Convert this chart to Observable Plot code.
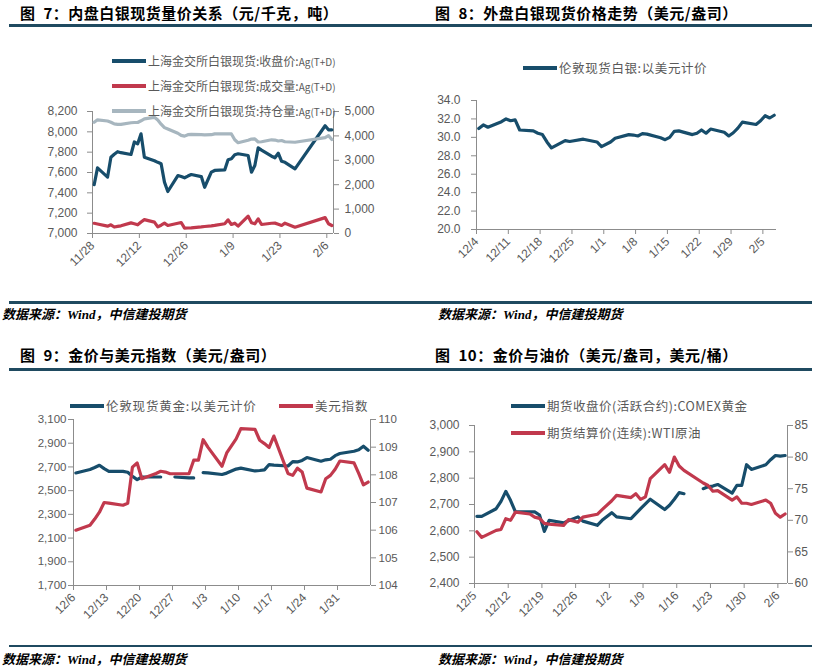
<!DOCTYPE html>
<html><head><meta charset="utf-8">
<script src="https://cdn.jsdelivr.net/npm/d3@7"></script>
<script src="https://cdn.jsdelivr.net/npm/@observablehq/plot@0.6"></script>
<style>
html,body{margin:0;padding:0;background:#fff;}
#root{position:relative;width:820px;height:671px;overflow:hidden;font-family:"Noto Sans CJK SC",sans-serif;}
.title{position:absolute;font-size:15px;letter-spacing:0.5px;font-weight:bold;color:#000;white-space:nowrap;line-height:16px;height:16px;}
.rule{position:absolute;background:#1F4A60;}
.src{position:absolute;font-family:"Liberation Serif","Noto Sans CJK SC",serif;font-style:italic;font-weight:bold;font-size:13px;white-space:nowrap;line-height:14px;color:#000;}
.leg{position:absolute;white-space:nowrap;color:#595959;height:16px;line-height:16px;display:flex;align-items:center;z-index:5;}
.leg .sw{display:inline-block;width:34px;height:3.5px;margin-right:2px;}
.plot{position:absolute;z-index:1;}
</style></head><body><div id="root"></div>
<script>
// ---------- data ----------
const p7Dates = ["11/28","11/29","12/2","12/3","12/4","12/5","12/6","12/9","12/10","12/11","12/12","12/13","12/16","12/17","12/18","12/19","12/20","12/23","12/24","12/25","12/26","12/27","12/30","12/31","1/2","1/3","1/6","1/7","1/8","1/9","1/10","1/13","1/14","1/15","1/16","1/17","1/20","1/21","1/22","1/23","1/24","1/27","2/5","2/6","2/7"];
const p7Close = [7480,7646,7555,7750,7780,7805,7795,7777,7900,7882,7980,7751,7715,7700,7686,7505,7413,7570,7560,7548,7565,7580,7560,7455,7603,7620,7625,7725,7735,7775,7784,7767,7603,7669,7843,7820,7760,7745,7790,7710,7700,7636,8060,8020,8020];
const p7Volume = [420,390,300,355,265,290,315,435,400,355,470,570,465,270,340,424,328,420,450,220,225,232,270,287,310,330,400,560,370,423,300,710,437,396,601,369,420,425,380,330,424,260,650,400,328];
const p7OI = [4560,4660,4610,4560,4490,4470,4470,4540,4550,4550,4620,4700,4760,4650,4480,4340,4280,4110,4020,3990,4050,4060,4050,4045,4050,4085,4085,4085,4080,3840,3720,3820,3870,3880,3750,3760,3840,3830,3790,3810,3760,3740,3930,4010,3850];
const p7XTicks = ["11/28","12/12","12/26","1/9","1/23","2/6"];
const p7LeftTicks = [7000,7200,7400,7600,7800,8000,8200];
const p7RightTicks = [0,1000,2000,3000,4000,5000];
const p7Names = ["上海金交所白银现货:收盘价:", "上海金交所白银现货:成交量:", "上海金交所白银现货:持仓量:"];

const p8Dates = ["12/4","12/5","12/6","12/9","12/10","12/11","12/12","12/13","12/16","12/17","12/18","12/19","12/20","12/23","12/24","12/27","12/30","12/31","1/2","1/3","1/6","1/7","1/8","1/9","1/10","1/13","1/14","1/15","1/16","1/17","1/20","1/21","1/22","1/23","1/24","1/27","1/28","1/29","1/30","1/31","2/3","2/4","2/5","2/6","2/7"];
const p8Silver = [30.95,31.35,31.1,31.7,32.0,31.8,31.9,30.8,30.7,30.45,30.3,29.5,28.85,29.65,29.55,29.8,29.5,29.0,29.5,29.9,30.3,30.25,30.15,30.4,30.35,29.95,29.75,30.0,30.65,30.7,30.3,30.45,30.8,30.45,30.9,30.55,30.15,30.5,31.0,31.65,31.4,31.8,32.35,32.1,32.4];
const p8XTicks = ["12/4","12/11","12/18","12/25","1/1","1/8","1/15","1/22","1/29","2/5"];
const p8Ticks = [20,22,24,26,28,30,32,34];

const p9Dates = ["12/6","12/9","12/10","12/11","12/12","12/13","12/16","12/17","12/18","12/19","12/20","12/23","12/24","12/25","12/26","12/27","12/30","12/31","1/1","1/2","1/3","1/6","1/7","1/8","1/9","1/10","1/13","1/14","1/15","1/16","1/17","1/20","1/21","1/22","1/23","1/24","1/27","1/28","1/29","1/30","1/31","2/3","2/4","2/5","2/6"];
const p9Gold = [2649,2678,2695,2714,2686,2663,2663,2655,2622,2593,2615,2615,2615,null,null,2615,2608,2607,null,2652,2650,2636,2648,2665,2682,2690,2666,2670,2675,2720,2715,2708,2745,2742,2755,2779,2748,2760,2765,2795,2813,2832,2845,2875,2841];
const p9Usd = [106.0,106.18,106.4,106.65,107.0,106.98,106.9,106.97,108.28,108.43,107.86,108.05,108.13,108.1,108.04,108.04,108.04,108.53,108.53,109.27,109.0,108.31,108.79,109.05,109.3,109.67,109.64,109.25,109.13,108.99,109.4,108.05,107.98,108.24,108.1,107.52,107.38,107.86,107.98,108.2,108.5,108.43,108.05,107.64,107.74];
const p9XTicks = ["12/6","12/13","12/20","12/27","1/3","1/10","1/17","1/24","1/31"];
const p9LeftTicks = [1700,1900,2100,2300,2500,2700,2900,3100];
const p9RightTicks = [104,105,106,107,108,109,110];

const p10Dates = ["12/5","12/6","12/9","12/10","12/11","12/12","12/13","12/16","12/17","12/18","12/19","12/20","12/23","12/24","12/26","12/27","12/30","12/31","1/2","1/3","1/6","1/7","1/8","1/9","1/10","1/13","1/14","1/15","1/16","1/17","1/20","1/21","1/22","1/23","1/24","1/27","1/28","1/29","1/30","1/31","2/3","2/4","2/5","2/6","2/7"];
const p10Gold = [2655,2655,2684,2712,2750,2715,2672,2672,2672,2660,2598,2640,2630,2638,2653,2637,2621,2640,2669,2653,2646,2665,2684,2702,2720,2681,2697,2720,2745,2741,null,2760,2767,2770,2776,2743,2773,2773,2851,2833,2851,2870,2886,2884,2886];
const p10Wti = [68.2,67.3,68.4,68.55,70.25,70.0,71.3,71.0,70.5,70.3,69.5,69.4,69.2,70.1,69.7,70.5,70.95,71.7,73.1,73.95,73.6,74.2,73.3,73.7,76.6,78.8,77.6,80.0,78.6,77.9,null,75.9,75.5,74.6,74.7,73.2,73.7,72.7,72.7,72.5,73.2,72.7,71.1,70.5,71.0];
const p10XTicks = ["12/5","12/12","12/19","12/26","1/2","1/9","1/16","1/23","1/30","2/6"];
const p10LeftTicks = [2400,2500,2600,2700,2800,2900,3000];
const p10RightTicks = [60,65,70,75,80,85];

// ---------- helpers ----------
const BLUE = "#174D6B", RED = "#C1394D", GRAY = "#A7B6BF", AXIS = "#8C8C8C", LABEL = "#595959";
function toDate(s, hour = 0) {
  const [m, d] = s.split("/").map(Number);
  return new Date(Date.UTC(m >= 11 ? 2024 : 2025, m - 1, d, hour));
}
function dualMap(l0, l1, r0, r1) {
  const f = v => l0 + (v - r0) * (l1 - l0) / (r1 - r0);
  f.invert = y => r0 + (y - l0) * (r1 - r0) / (l1 - l0);
  return f;
}
const xfmt = d => `${d.getUTCMonth() + 1}/${d.getUTCDate()}`;
const comma = d3.format(",");
const series = (dates, vals, map = v => v, dropNull = false) =>
  dates.map((s, i) => ({date: toDate(s, 12), v: vals[i] == null ? NaN : map(vals[i])}))
       .filter(d => !dropNull || !isNaN(d.v));

function build(cfg) {
  const [ml, mr, mt, mb] = cfg.margins;
  const yfs = cfg.yFontSize || 12;
  const marks = [
    Plot.ruleY([cfg.yDomain[0]], {stroke: AXIS}),
    Plot.ruleX([cfg.xDomain[0]], {stroke: AXIS}),
    Plot.axisY(cfg.leftTicks, {anchor: "left", tickSize: 5, tickPadding: cfg.leftPad, stroke: AXIS, fill: LABEL, fontSize: yfs, tickFormat: cfg.leftFmt, label: null}),
    Plot.axisX(cfg.xTicks.map(s => toDate(s)), {anchor: "bottom", tickSize: 5, tickPadding: 5, tickRotate: -45, stroke: AXIS, fill: LABEL, tickFormat: xfmt, label: null})
  ];
  if (cfg.rightTicks) {
    marks.push(Plot.ruleX([cfg.xDomain[1]], {stroke: AXIS}));
    marks.push(Plot.axisY(cfg.rightTicks.map(cfg.rightMap), {anchor: "right", tickSize: 5, tickPadding: cfg.rightPad, stroke: AXIS, fill: LABEL, fontSize: yfs,
      tickFormat: d => cfg.rightFmt(Math.round(cfg.rightMap.invert(d) * 1000) / 1000), label: null}));
  }
  for (const l of cfg.lines) marks.push(Plot.line(l.data, {x: "date", y: "v", stroke: l.color, strokeWidth: 3.2}));
  const svg = Plot.plot({
    width: 410, height: 300, marginLeft: ml, marginRight: mr, marginTop: mt, marginBottom: mb,
    style: {fontFamily: "Liberation Sans, Arial, sans-serif", fontSize: "12px", color: LABEL, background: "transparent", overflow: "visible"},
    x: {type: "utc", domain: cfg.xDomain, label: null},
    y: {domain: cfg.yDomain, label: null},
    marks
  });
  svg.classList.add("plot");
  svg.style.left = cfg.left + "px";
  svg.style.top = cfg.top + "px";
  root.appendChild(svg);
}

const root = document.getElementById("root");
function add(cls, x, y, html, extra = {}) {
  const el = document.createElement("div");
  el.className = cls;
  el.style.left = x + "px"; el.style.top = y + "px";
  Object.assign(el.style, extra);
  el.innerHTML = html;
  root.appendChild(el);
  return el;
}
function rule(x1, x2, y, h) { add("rule", x1, y - h / 2, "", {width: (x2 - x1) + "px", height: h + "px"}); }
function legend(x, cy, color, html, fs, ls = 0) {
  add("leg", x, cy - 8, `<span class="sw" style="background:${color}"></span><span style="font-size:${fs}px;letter-spacing:${ls}px">${html}</span>`);
}

// ---------- panel 7 ----------
const m7 = dualMap(7000, 8200, 0, 5000);
build({
  left: 0, top: 0, margins: [92, 77, 111, 67],
  xDomain: [toDate("11/28"), toDate("2/8")], yDomain: [7000, 8200],
  xTicks: p7XTicks, leftTicks: p7LeftTicks, leftFmt: comma, leftPad: 10,
  rightTicks: p7RightTicks, rightMap: m7, rightFmt: comma, rightPad: 6,
  lines: [
    {data: series(p7Dates, p7Close), color: BLUE},
    {data: series(p7Dates, p7Volume, m7), color: RED},
    {data: series(p7Dates, p7OI, m7), color: GRAY}
  ]
});
// ---------- panel 8 ----------
build({
  left: 410, top: 0, margins: [66, 44, 100, 71],
  xDomain: [toDate("12/4"), toDate("2/8")], yDomain: [20, 34],
  xTicks: p8XTicks, leftTicks: p8Ticks, leftFmt: d => d.toFixed(1), leftPad: 11,
  lines: [{data: series(p8Dates, p8Silver), color: BLUE}]
});
// ---------- panel 9 ----------
const m9 = dualMap(1700, 3100, 104, 110);
build({
  left: 0, top: 340, margins: [73, 40, 79, 55], yFontSize: 11.5,
  xDomain: [toDate("12/6"), toDate("2/7")], yDomain: [1700, 3100],
  xTicks: p9XTicks, leftTicks: p9LeftTicks, leftFmt: comma, leftPad: 2,
  rightTicks: p9RightTicks, rightMap: m9, rightFmt: d => String(d), rightPad: 3,
  lines: [
    {data: series(p9Dates, p9Gold), color: BLUE},
    {data: series(p9Dates, p9Usd, m9), color: RED}
  ]
});
// ---------- panel 10 ----------
const m10 = dualMap(2400, 3000, 60, 85);
build({
  left: 410, top: 340, margins: [64, 33, 85, 57],
  xDomain: [toDate("12/5"), toDate("2/8")], yDomain: [2400, 3000],
  xTicks: p10XTicks, leftTicks: p10LeftTicks, leftFmt: comma, leftPad: 10,
  rightTicks: p10RightTicks, rightMap: m10, rightFmt: d => String(d), rightPad: 2,
  lines: [
    {data: series(p10Dates, p10Gold), color: BLUE},
    {data: series(p10Dates, p10Wti, m10, true), color: RED}
  ]
});

// ---------- titles, rules, legends, sources ----------
add("title", 20, 5, "图&ensp;7：内盘白银现货量价关系（元/千克，吨）");
add("title", 435, 5, "图&ensp;8：外盘白银现货价格走势（美元/盎司）");
add("title", 20, 347, "图&ensp;9：金价与美元指数（美元/盎司）");
add("title", 435, 347, "图&ensp;10：金价与油价（美元/盎司，美元/桶）");
rule(9, 812, 25.5, 2.7);
rule(9, 812, 369.5, 2.7);
rule(9, 812, 302.5, 2.5);
rule(9, 812, 646, 2.5);
add("src", 2, 308, "数据来源：Wind，中信建投期货");
add("src", 438, 308, "数据来源：Wind，中信建投期货");
add("src", 2, 653, "数据来源：Wind，中信建投期货");
add("src", 438, 653, "数据来源：Wind，中信建投期货");

const ag = '<span style="font-size:10px">Ag(T+D)</span>';
legend(112, 61, BLUE, p7Names[0] + ag, 12);
legend(112, 86, RED, p7Names[1] + ag, 12);
legend(112, 111, GRAY, p7Names[2] + ag, 12);
legend(523, 68, BLUE, "伦敦现货白银:以美元计价", 12.5, 0.6);
legend(70, 406, BLUE, "伦敦现货黄金:以美元计价", 12.5, 0.8);
legend(279, 406, RED, "美元指数", 12.5, 0.8);
legend(511, 406, BLUE, "期货收盘价(活跃合约):COMEX黄金", 12.5, 0.5);
legend(511, 433, RED, "期货结算价(连续):WTI原油", 12.5, 0.5);
</script></body></html>
